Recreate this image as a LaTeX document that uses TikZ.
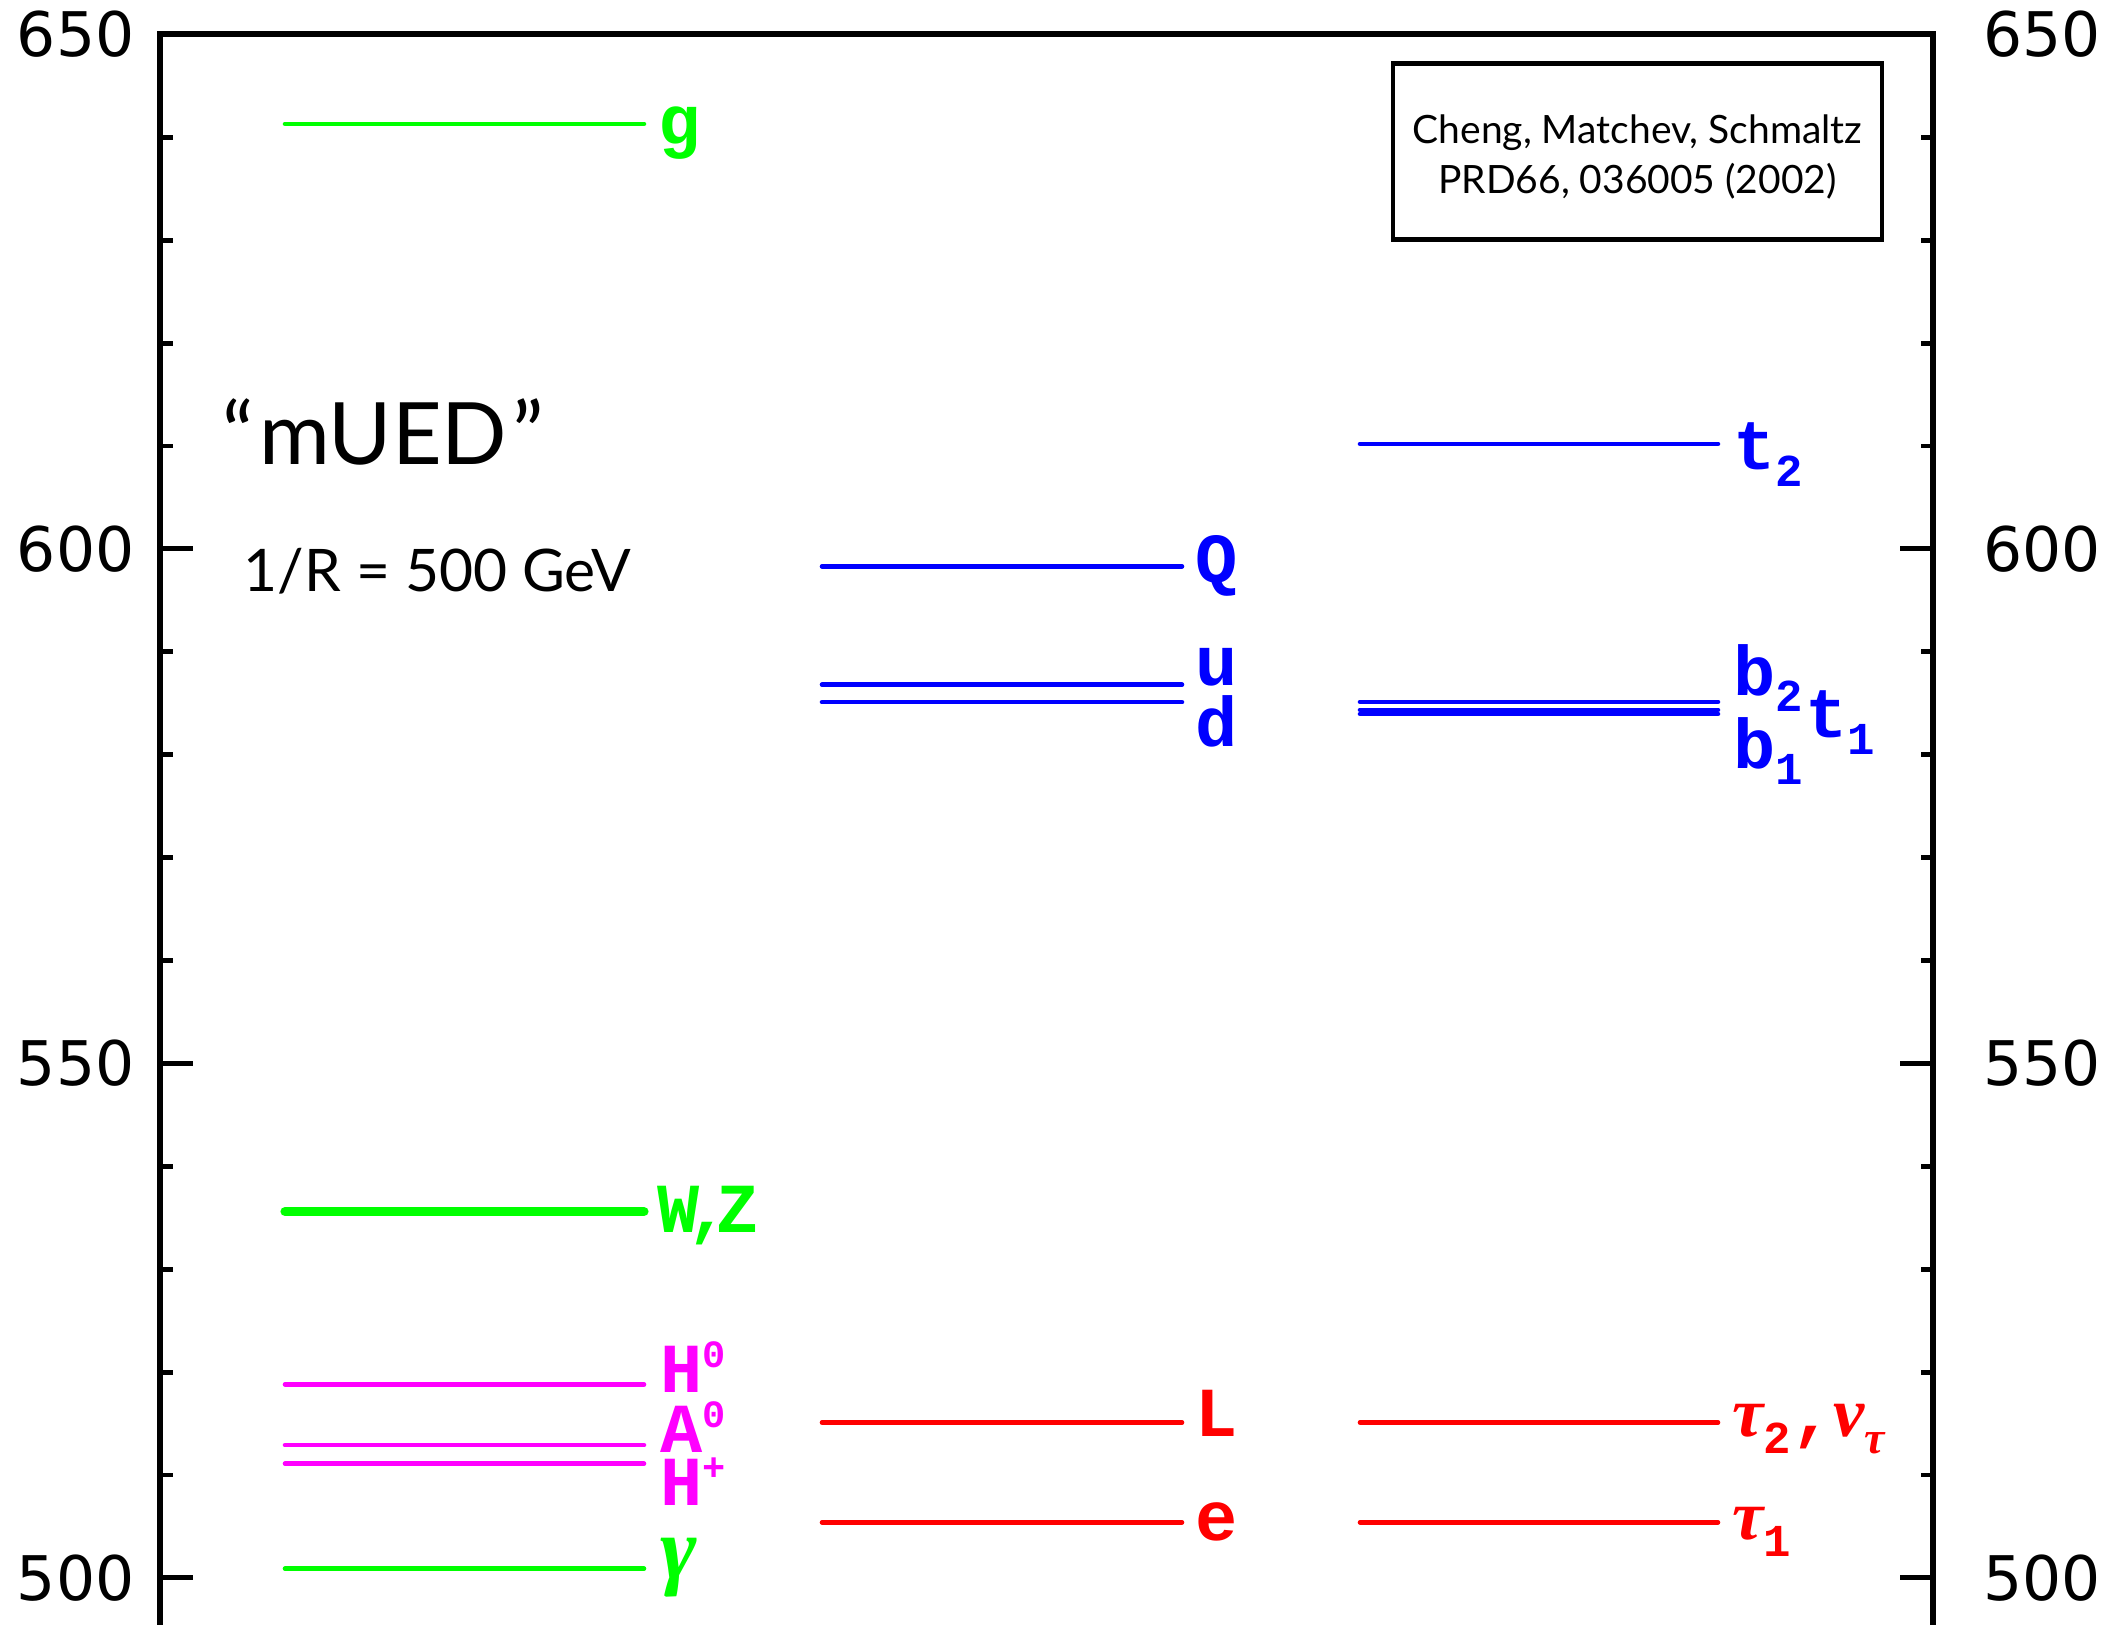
\documentclass[tikz,border=0pt]{standalone}
\usepackage{fontspec}
\usepackage{graphicx}
\newfontfamily\gillfont{Lato}
\newfontfamily\tickfont{DejaVu Sans}
\newfontfamily\lvlfont{Liberation Mono}
\newfontfamily\grkfont{Liberation Serif}

\definecolor{kkgreen}{RGB}{0,255,0}
\definecolor{kkmag}{RGB}{255,0,255}
\definecolor{kkblue}{RGB}{0,0,255}
\definecolor{kkred}{RGB}{255,0,0}

\tikzset{
  axis/.style={line width=1.7pt},
  tickline/.style={line width=1.4pt},
  lvl/.style={line width=1.3pt,line cap=round},
  lvlthick/.style={line width=2.6pt,line cap=round},
  tag/.style={font=\lvlfont\bfseries\fontsize{20}{20}\selectfont,inner sep=0pt,anchor=base west},
  ticklab/.style={font=\tickfont\fontsize{17.5}{17.5}\selectfont,inner sep=0pt},
}
\newcommand\lo[1]{\raisebox{-.24em}{\fontsize{13}{13}\selectfont #1}}
\newcommand\hi[1]{\raisebox{.36em}{\fontsize{11}{11}\selectfont #1}}
\newcommand\grk[1]{{\grkfont\bfseries\itshape #1}}

\begin{document}
\begin{tikzpicture}[x=0.1mm,y=1.029mm]
\useasboundingbox (0,495.43) rectangle (2105,653.35);

% frame and ticks
\draw[axis] (160,495.43) -- (160,650) -- (1933,650) -- (1933,495.43);
\foreach \v in {500,510,...,640} {
  \draw[tickline] (160,\v) -- ++(13,0);
  \draw[tickline] (1933,\v) -- ++(-12,0);
}
\foreach \v in {500,550,600} {
  \draw[tickline] (160,\v) -- ++(33,0);
  \draw[tickline] (1933,\v) -- ++(-33,0);
}
\foreach \v in {500,550,600,650} {
  \node[ticklab,anchor=east] (yl\v) at (135,\v) {\v};
  \node[ticklab,anchor=west] (yr\v) at (1983,\v) {\v};
}

% bosons
\draw[lvl,kkgreen] (285,641.3) -- (644,641.3);
\node[tag,kkgreen] (g) at (658,639.3) {g};
\draw[lvlthick,kkgreen] (285,535.6) -- (644,535.6);
\node[tag,kkgreen] (WZ) at (657,533.6) {W\kern-.18em,\kern-.18em Z};
\draw[lvl,kkmag] (285,518.8) -- (644,518.8);
\node[tag,kkmag] (H0) at (660,518.0) {H\hi{0}};
\draw[lvl,kkmag] (285,512.9) -- (644,512.9);
\node[tag,kkmag] (A0) at (660,512.15) {A\hi{0}};
\draw[lvl,kkmag] (285,511.1) -- (644,511.1);
\node[tag,kkmag] (Hp) at (660,507.0) {H\hi{+}};
\draw[lvl,kkgreen] (285,500.9) -- (644,500.9);
\node[tag,kkgreen] (gam) at (660,499.9) {\fontsize{25}{25}\selectfont\grk{γ}};

% quarks and leptons
\draw[lvl,kkblue] (822,598.3) -- (1182,598.3);
\node[tag,kkblue] (Q) at (1195,596.7) {Q};
\draw[lvl,kkblue] (822,586.8) -- (1182,586.8);
\node[tag,kkblue] (u) at (1195,586.7) {u};
\draw[lvl,kkblue] (822,585.1) -- (1182,585.1);
\node[tag,kkblue] (d) at (1195,580.8) {d};
\draw[lvl,kkred] (822,515.1) -- (1182,515.1);
\node[tag,kkred] (L) at (1195,513.7) {L};
\draw[lvl,kkred] (822,505.4) -- (1182,505.4);
\node[tag,kkred] (e) at (1195,503.6) {e};

% third generation
\draw[lvl,kkblue] (1360,610.2) -- (1718,610.2);
\node[tag,kkblue] (t2) at (1733,607.7) {t\lo{2}};
\draw[lvl,kkblue] (1360,585.13) -- (1718,585.13);
\draw[lvl,kkblue] (1360,584.35) -- (1718,584.35);
\draw[lvl,kkblue] (1360,583.97) -- (1718,583.97);
\node[tag,kkblue] (b2) at (1733,585.8) {b\lo{2}};
\node[tag,kkblue] (t1) at (1805,581.7) {t\lo{1}};
\node[tag,kkblue] (b1) at (1733,578.7) {b\lo{1}};
\draw[lvl,kkred] (1360,515.1) -- (1718,515.1);
\node[tag,kkred] (tau2) at (1732,513.7) {\grk{τ}\lo{2},\grk{ν}\lo{\grk{τ}}};
\draw[lvl,kkred] (1360,505.4) -- (1718,505.4);
\node[tag,kkred] (tau1) at (1732,503.7) {\grk{τ}\lo{1}};

% texts
\node[font=\gillfont\fontsize{24.5}{24.5}\selectfont,inner sep=0pt,anchor=base west] (model) at (222,608.16) {“\kern.06em mUED\kern.06em”};
\node[font=\gillfont\fontsize{16.7}{16.7}\selectfont,inner sep=0pt,anchor=base west] (scale) at (243,595.82) {1/R = 500 GeV};
\node[draw,line width=1.4pt,minimum width=48.9mm,minimum height=17.6mm] (refbox) at (1637.5,638.58) {};
\node[align=center,inner sep=0pt,font=\gillfont\fontsize{11.1}{14.2}\selectfont,yshift=-0.5mm] (ref) at (refbox.center)
  {Cheng, Matchev, Schmaltz\\PRD66, 036005 (2002)};
\end{tikzpicture}
\end{document}
